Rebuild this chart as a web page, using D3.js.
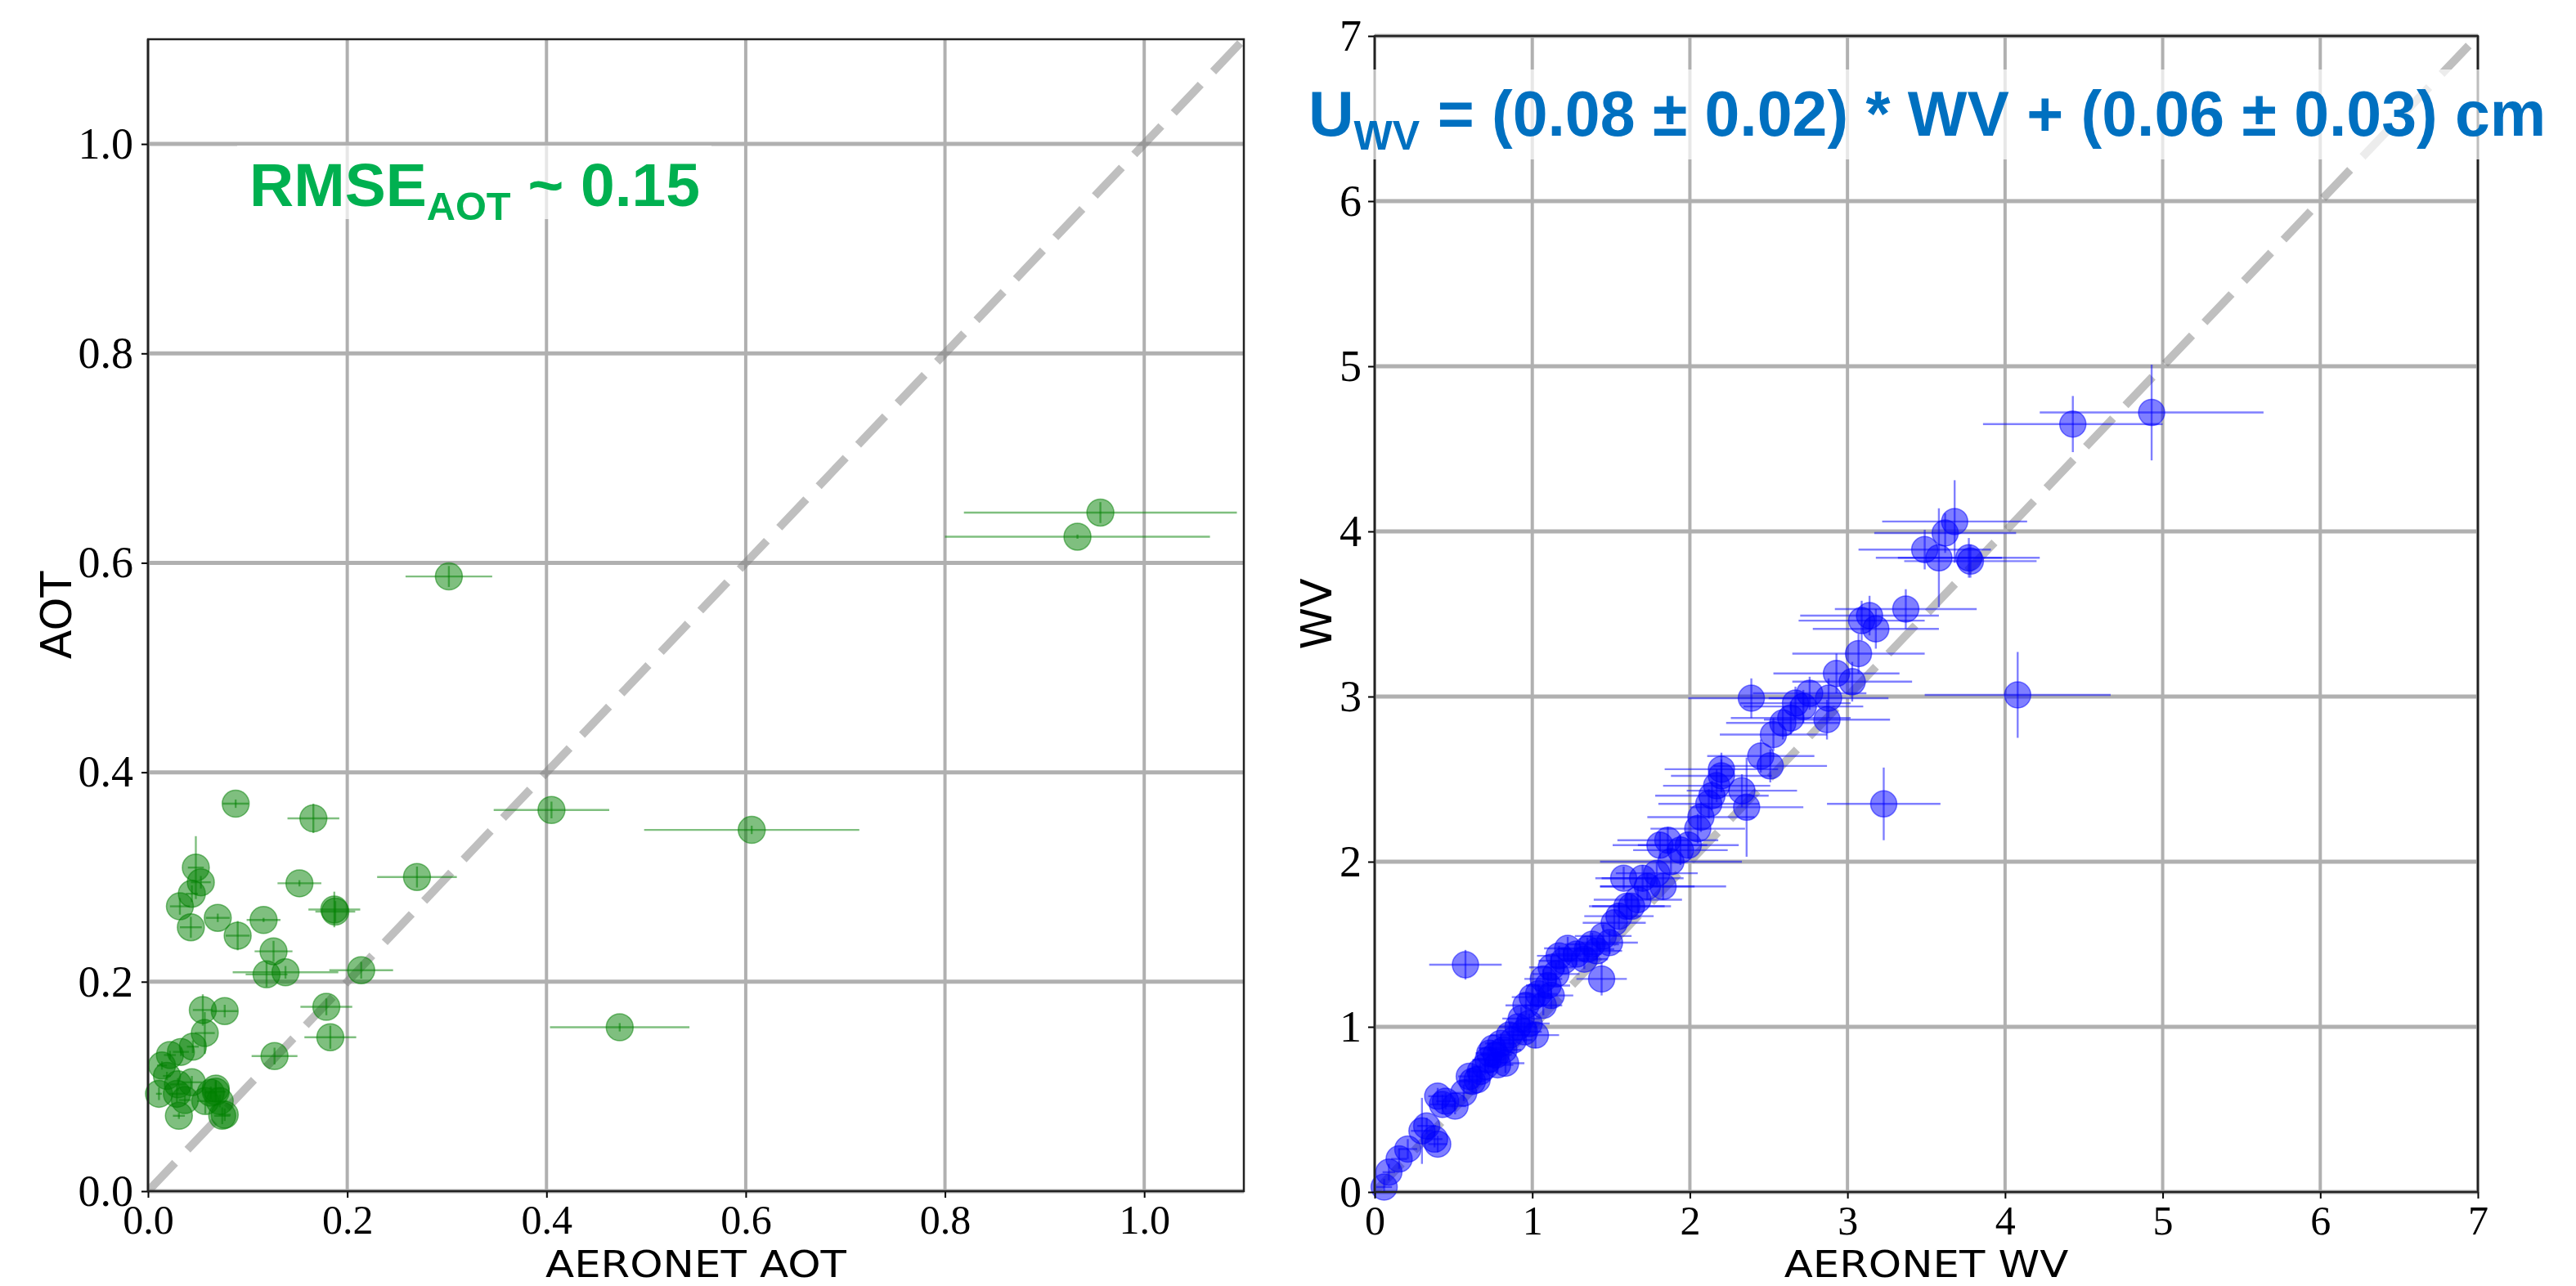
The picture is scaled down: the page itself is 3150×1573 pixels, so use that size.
<!DOCTYPE html>
<html>
<head>
<meta charset="utf-8">
<script src="https://cdn.jsdelivr.net/npm/d3@7"></script>
<style>
  body { margin: 0; background: #fff; }
  svg { display: block; }
</style>
</head>
<body>
<script>
// left panel: retrieved AOT against AERONET AOT
var aotAeronet = [0.088, 0.166, 0.270, 0.405, 0.048, 0.053, 0.044, 0.032, 0.043, 0.070,
  0.090, 0.116, 0.152, 0.187, 0.188, 0.126, 0.119, 0.138, 0.214, 0.055,
  0.077, 0.057, 0.045, 0.033, 0.022, 0.014, 0.019, 0.030, 0.044, 0.011,
  0.029, 0.037, 0.031, 0.0575, 0.068, 0.068, 0.072, 0.0745, 0.077, 0.063,
  0.127, 0.179, 0.183, 0.302, 0.606, 0.4735, 0.956, 0.933];
var aotRetrieved = [0.370, 0.356, 0.300, 0.364, 0.309, 0.295, 0.284, 0.272, 0.252, 0.261,
  0.244, 0.259, 0.294, 0.269, 0.267, 0.229, 0.207, 0.209, 0.211, 0.173,
  0.172, 0.151, 0.138, 0.133, 0.130, 0.120, 0.110, 0.102, 0.104, 0.093,
  0.093, 0.087, 0.072, 0.086, 0.095, 0.098, 0.086, 0.072, 0.073, 0.094,
  0.129, 0.176, 0.147, 0.587, 0.345, 0.1565, 0.648, 0.625];
var aotAeronetErr = [0.013, 0.026, 0.040, 0.058, 0.008, 0.010, 0.006, 0.010, 0.011, 0.012,
  0.012, 0.017, 0.022, 0.026, 0.020, 0.019, 0.021, 0.053, 0.032, 0.010,
  0.013, 0.010, 0.006, 0.008, 0.006, 0.005, 0.004, 0.008, 0.010, 0.003,
  0.008, 0.006, 0.006, 0.008, 0.010, 0.006, 0.008, 0.008, 0.006, 0.006,
  0.023, 0.026, 0.026, 0.0435, 0.108, 0.070, 0.137, 0.133];
var aotRetrievedErr = [0.004, 0.014, 0.010, 0.008, 0.030, 0.006, 0.008, 0.008, 0.010, 0.004,
  0.014, 0.002, 0.003, 0.017, 0.010, 0.010, 0.012, 0.006, 0.008, 0.015,
  0.006, 0.020, 0.006, 0.004, 0.004, 0.004, 0.004, 0.006, 0.006, 0.006,
  0.008, 0.004, 0.003, 0.012, 0.010, 0.008, 0.006, 0.008, 0.006, 0.006,
  0.008, 0.008, 0.011, 0.010, 0.004, 0.004, 0.010, 0.002];
var aotTicks = [0, 0.2, 0.4, 0.6, 0.8, 1.0];

// right panel: retrieved WV against AERONET WV (cm)
var wvAeronet = [0.06, 0.09, 0.155, 0.21, 0.30, 0.33, 0.38, 0.40, 0.43, 0.40,
  0.45, 0.51, 0.565, 0.60, 0.62, 0.65, 0.67, 0.70, 0.72, 0.73,
  0.75, 0.77, 0.78, 0.80, 0.82, 0.83, 0.855, 0.88, 0.91, 0.93,
  0.95, 0.96, 0.98, 1.00, 1.02, 1.04, 1.07, 1.07, 1.10, 1.12,
  1.12, 1.15, 1.17, 1.20, 1.225, 1.28, 1.33, 1.35, 1.38, 1.41,
  1.44, 1.45, 1.49, 0.576, 1.52, 1.55, 1.60, 1.58, 1.63, 1.67,
  1.70, 1.73, 1.79, 1.83, 1.81, 1.86, 1.88, 1.94, 1.99, 2.05,
  2.07, 2.12, 2.14, 2.17, 2.20, 2.20, 2.33, 2.36, 2.39, 2.45,
  2.51, 2.53, 2.59, 2.64, 2.67, 2.72, 2.76, 2.87, 2.88, 2.93,
  3.03, 3.07, 3.09, 3.14, 3.18, 3.23, 3.37, 3.49, 3.58, 3.62,
  3.68, 3.77, 3.78, 4.08, 4.43, 4.93];
var wvRetrieved = [0.03, 0.12, 0.20, 0.26, 0.37, 0.40, 0.32, 0.29, 0.53, 0.58,
  0.55, 0.52, 0.60, 0.70, 0.67, 0.68, 0.73, 0.76, 0.80, 0.84,
  0.87, 0.83, 0.77, 0.90, 0.86, 0.78, 0.95, 0.92, 1.00, 1.05,
  0.97, 1.13, 1.02, 1.18, 0.95, 1.20, 1.13, 1.29, 1.25, 1.19,
  1.36, 1.32, 1.43, 1.40, 1.475, 1.44, 1.41, 1.47, 1.50, 1.46,
  1.29, 1.55, 1.51, 1.376, 1.63, 1.67, 1.73, 1.90, 1.73, 1.77,
  1.90, 1.85, 1.93, 1.85, 2.10, 2.13, 2.00, 2.07, 2.10, 2.20,
  2.27, 2.35, 2.40, 2.46, 2.56, 2.52, 2.43, 2.33, 2.99, 2.64,
  2.58, 2.77, 2.84, 2.87, 2.96, 2.94, 3.02, 2.86, 2.99, 3.14,
  3.09, 3.26, 3.46, 3.49, 3.41, 2.35, 3.53, 3.89, 3.84, 3.99,
  4.06, 3.84, 3.82, 3.01, 4.65, 4.72];
var wvAeronetErr = [0.05, 0.04, 0.05, 0.06, 0.07, 0.06, 0.05, 0.06, 0.08, 0.06,
  0.06, 0.07, 0.08, 0.07, 0.08, 0.08, 0.09, 0.08, 0.10, 0.09,
  0.09, 0.10, 0.10, 0.10, 0.11, 0.12, 0.12, 0.12, 0.12, 0.12,
  0.11, 0.13, 0.13, 0.13, 0.15, 0.12, 0.12, 0.12, 0.14, 0.14,
  0.14, 0.15, 0.14, 0.16, 0.15, 0.16, 0.15, 0.17, 0.17, 0.16,
  0.16, 0.18, 0.18, 0.23, 0.20, 0.22, 0.24, 0.18, 0.25, 0.28,
  0.26, 0.30, 0.26, 0.40, 0.30, 0.32, 0.45, 0.30, 0.32, 0.30,
  0.34, 0.32, 0.36, 0.34, 0.36, 0.32, 0.35, 0.36, 0.40, 0.34,
  0.36, 0.34, 0.36, 0.38, 0.35, 0.38, 0.36, 0.40, 0.38, 0.40,
  0.38, 0.42, 0.40, 0.44, 0.40, 0.36, 0.45, 0.42, 0.40, 0.45,
  0.46, 0.45, 0.42, 0.59, 0.57, 0.71];
var wvRetrievedErr = [0.05, 0.05, 0.06, 0.06, 0.20, 0.05, 0.05, 0.05, 0.06, 0.05,
  0.05, 0.05, 0.05, 0.05, 0.06, 0.05, 0.05, 0.05, 0.06, 0.06,
  0.05, 0.05, 0.05, 0.06, 0.06, 0.06, 0.06, 0.06, 0.06, 0.07,
  0.06, 0.06, 0.06, 0.07, 0.08, 0.06, 0.06, 0.06, 0.07, 0.08,
  0.07, 0.07, 0.06, 0.07, 0.07, 0.07, 0.06, 0.07, 0.07, 0.06,
  0.10, 0.07, 0.07, 0.09, 0.08, 0.08, 0.08, 0.07, 0.07, 0.08,
  0.08, 0.08, 0.07, 0.08, 0.08, 0.08, 0.08, 0.09, 0.08, 0.09,
  0.09, 0.09, 0.09, 0.10, 0.10, 0.10, 0.10, 0.30, 0.12, 0.10,
  0.10, 0.10, 0.10, 0.10, 0.10, 0.10, 0.10, 0.12, 0.12, 0.12,
  0.12, 0.12, 0.12, 0.12, 0.12, 0.22, 0.12, 0.12, 0.30, 0.12,
  0.25, 0.12, 0.10, 0.26, 0.17, 0.29];
var wvTicks = [0, 1, 2, 3, 4, 5, 6, 7];

var svg = d3.select("body").append("svg")
    .attr("width", 3150)
    .attr("height", 1573);

function zip(xs, ys, xe, ye) {
    return xs.map(function(d, i) {
        return {x: d, y: ys[i], xe: xe[i], ye: ye[i]};
    });
}

function panel(cfg) {
    var x = d3.scaleLinear().domain([0, cfg.max]).range([cfg.left, cfg.right]);
    var y = d3.scaleLinear().domain([0, cfg.max]).range([cfg.bottom, cfg.top]);
    var g = svg.append("g");

    g.append("clipPath").attr("id", cfg.id)
      .append("rect")
        .attr("x", cfg.left).attr("y", cfg.top)
        .attr("width", cfg.right - cfg.left).attr("height", cfg.bottom - cfg.top);

    // grid
    g.append("g").selectAll("line").data(cfg.ticks).enter().append("line")
        .attr("x1", function(d) { return x(d); })
        .attr("x2", function(d) { return x(d); })
        .attr("y1", cfg.bottom).attr("y2", cfg.top)
        .attr("stroke", "#b0b0b0").attr("stroke-width", 4);
    g.append("g").selectAll("line").data(cfg.ticks).enter().append("line")
        .attr("y1", function(d) { return y(d); })
        .attr("y2", function(d) { return y(d); })
        .attr("x1", cfg.left).attr("x2", cfg.right)
        .attr("stroke", "#b0b0b0").attr("stroke-width", 5);

    // 1:1 line
    g.append("line")
        .attr("clip-path", "url(#" + cfg.id + ")")
        .attr("x1", x(0)).attr("y1", y(0))
        .attr("x2", x(cfg.max)).attr("y2", y(cfg.max))
        .attr("stroke", "#808080").attr("stroke-opacity", 0.5)
        .attr("stroke-width", 10).attr("stroke-dasharray", "48,22");

    var pts = cfg.points;
    var bars = g.append("g").attr("clip-path", "url(#" + cfg.id + ")")
        .attr("stroke", cfg.color).attr("stroke-opacity", 0.5).attr("stroke-width", 2.4);
    bars.selectAll("line.h").data(pts).enter().append("line")
        .attr("x1", function(d) { return x(d.x - d.xe); })
        .attr("x2", function(d) { return x(d.x + d.xe); })
        .attr("y1", function(d) { return y(d.y); })
        .attr("y2", function(d) { return y(d.y); });
    bars.selectAll("line.v").data(pts).enter().append("line")
        .attr("x1", function(d) { return x(d.x); })
        .attr("x2", function(d) { return x(d.x); })
        .attr("y1", function(d) { return y(d.y - d.ye); })
        .attr("y2", function(d) { return y(d.y + d.ye); });

    g.append("g").selectAll("circle").data(pts).enter().append("circle")
        .attr("cx", function(d) { return x(d.x); })
        .attr("cy", function(d) { return y(d.y); })
        .attr("r", cfg.r)
        .attr("fill", cfg.color).attr("fill-opacity", 0.5)
        .attr("stroke", cfg.color).attr("stroke-opacity", 0.5).attr("stroke-width", 1.5);

    // axes
    var ax = g.append("g").attr("transform", "translate(0," + cfg.bottom + ")")
        .call(d3.axisBottom(x).tickValues(cfg.ticks).tickFormat(cfg.fmt)
            .tickSize(8).tickPadding(8));
    var ay = g.append("g").attr("transform", "translate(" + cfg.left + ",0)")
        .call(d3.axisLeft(y).tickValues(cfg.ticks).tickFormat(cfg.fmt)
            .tickSize(8).tickPadding(cfg.ypad));
    [ax, ay].forEach(function(a) {
        a.select(".domain").remove();
        a.selectAll(".tick line").attr("stroke", "#000").attr("stroke-width", 2);
        a.selectAll(".tick text")
            .attr("fill", "#000")
            .style("font-family", "'Liberation Serif', serif");
    });
    ax.selectAll(".tick text").style("font-size", "50px");
    ay.selectAll(".tick text").style("font-size", "54px");

    // frame
    g.append("rect")
        .attr("x", cfg.left).attr("y", cfg.top)
        .attr("width", cfg.right - cfg.left).attr("height", cfg.bottom - cfg.top)
        .attr("fill", "none").attr("stroke", "#222").attr("stroke-width", 2.5);

    // x label, slightly widened so it keeps the reference width in less height
    g.append("text")
        .attr("transform", "translate(" + (cfg.left + cfg.right) / 2 + ",1562)scale(1.14,1)")
        .attr("text-anchor", "middle")
        .style("font-family", "'DejaVu Sans', sans-serif").style("font-size", "45px")
        .text(cfg.xlabel);
    g.append("text")
        .attr("transform", "translate(" + cfg.ylabelX + "," + (cfg.top + cfg.bottom) / 2 + ")rotate(-90)")
        .attr("text-anchor", "middle")
        .style("font-family", "'DejaVu Sans', sans-serif").style("font-size", "52px")
        .text(cfg.ylabel);
}

panel({
    id: "clip-aot", max: 1.1, left: 181, right: 1521, top: 48, bottom: 1457,
    ticks: aotTicks, fmt: d3.format(".1f"), ypad: 10, r: 16.5, color: "#008000",
    points: zip(aotAeronet, aotRetrieved, aotAeronetErr, aotRetrievedErr),
    xlabel: "AERONET AOT", ylabel: "AOT", ylabelX: 87
});
panel({
    id: "clip-wv", max: 7, left: 1681, right: 3030, top: 44, bottom: 1458,
    ticks: wvTicks, fmt: d3.format("d"), ypad: 8, r: 16, color: "#0000ff",
    points: zip(wvAeronet, wvRetrieved, wvAeronetErr, wvRetrievedErr),
    xlabel: "AERONET WV", ylabel: "WV", ylabelX: 1628
});

// annotations with half transparent white boxes
function note(bx, by, bw, bh, tx, ty, color, size, main, sub, rest) {
    svg.append("rect")
        .attr("x", bx).attr("y", by).attr("width", bw).attr("height", bh)
        .attr("fill", "#fff").attr("fill-opacity", 0.7);
    var t = svg.append("text")
        .attr("x", tx).attr("y", ty)
        .attr("fill", color)
        .style("font-family", "'Liberation Sans', Arial, sans-serif")
        .style("font-weight", "bold")
        .style("font-size", size + "px");
    t.append("tspan").text(main);
    t.append("tspan").attr("dy", size * 0.22).style("font-size", (size * 0.65) + "px").text(sub);
    t.append("tspan").attr("dy", -size * 0.22).text(rest);
}
note(290, 178, 580, 90, 305, 252, "#00b050", 75, "RMSE", "AOT", " ~ 0.15");
note(1588, 85, 1530, 110, 1600, 166, "#0070c0", 77, "U", "WV",
    " = (0.08 \u00b1 0.02) * WV + (0.06 \u00b1 0.03) cm");
</script>
</body>
</html>
